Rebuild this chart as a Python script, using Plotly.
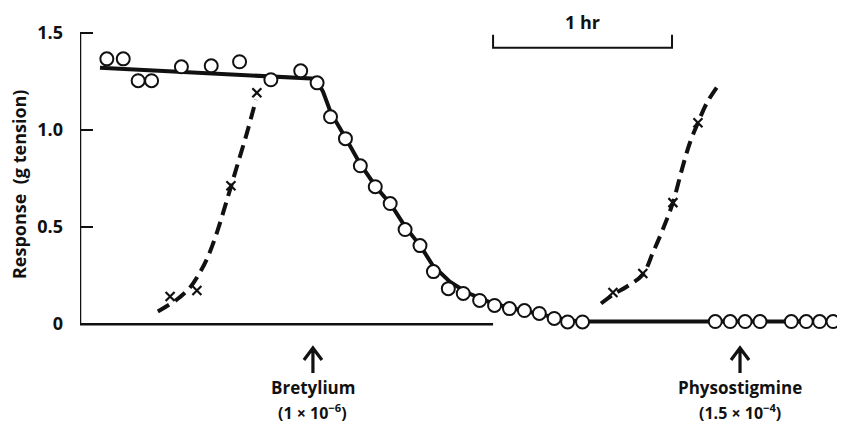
import plotly.graph_objects as go

# ---- data (x in minutes, y in g tension) ----
circle_x = [9, 14.5, 19.5, 24, 34, 44, 53.5, 64, 74, 79.5, 84, 89, 94, 99, 104, 109,
            114, 118.5, 123.5, 128.5, 134, 139, 144, 149, 154, 159, 163.5, 168.5,
            213, 218, 223, 228, 238.5, 243.5, 248, 252.5]
circle_y = [1.366, 1.366, 1.253, 1.253, 1.325, 1.330, 1.351, 1.258, 1.304, 1.242,
            1.067, 0.954, 0.814, 0.706, 0.619, 0.485, 0.402, 0.268, 0.180, 0.155,
            0.119, 0.093, 0.077, 0.067, 0.052, 0.026, 0.008, 0.008,
            0.01, 0.01, 0.01, 0.01, 0.01, 0.01, 0.01, 0.01]

fit_x = [6.7, 79.1, 81.5, 84.1, 89.2, 93.9, 99.2, 104.3, 109.0, 114.3, 118.3, 124.0,
         129.7, 134.1, 138.5, 145.2, 152.5, 159.2, 164.3, 168.6, 256.5]
fit_y = [1.320, 1.263, 1.196, 1.088, 0.954, 0.825, 0.706, 0.613, 0.500, 0.397, 0.299,
         0.216, 0.160, 0.129, 0.103, 0.077, 0.052, 0.031, 0.015, 0.010, 0.010]

cross1_x = [30.2, 39.2, 50.6, 59.3]
cross1_y = [0.139, 0.170, 0.711, 1.191]
dash1_x = [26.1, 32.5, 36.9, 40.2, 42.9, 45.9, 48.6, 50.6, 53.0, 56.0, 59.0]
dash1_y = [0.062, 0.124, 0.186, 0.263, 0.345, 0.469, 0.603, 0.706, 0.830, 0.985, 1.155]

cross2_x = [178.7, 188.7, 198.8, 207.2]
cross2_y = [0.160, 0.258, 0.624, 1.036]
dash2_x = [174.7, 178.7, 183.4, 188.7, 192.1, 195.4, 198.8, 201.8, 204.5, 207.2, 210.2, 213.9]
dash2_y = [0.103, 0.149, 0.191, 0.253, 0.366, 0.485, 0.624, 0.794, 0.933, 1.036, 1.139, 1.227]

tick_vals = [0, 0.5, 1.0, 1.5]
tick_text = ["0", "0.5", "1.0", "1.5"]

drug_x = [78.1, 221.3]
drug_names = ["Bretylium", "Physostigmine"]
drug_doses = ["(1 × 10<sup>−6</sup>)", "(1.5 × 10<sup>−4</sup>)"]

scale_bar_x = [138.5, 198.5]
scale_bar_label = "1 hr"
y_title = "Response  (g tension)"

INK = "#111111"
FONT = "Open Sans"
Y_RANGE = [-0.08, 1.52]
PLOT_H = 310.0   # plot area height in px
MIN_PX = 765.0 / 256.5  # px per minute


def ypaper(v):
    return (v - Y_RANGE[0]) / (Y_RANGE[1] - Y_RANGE[0])


fig = go.Figure()

for dx, dy in ((dash1_x, dash1_y), (dash2_x, dash2_y)):
    fig.add_trace(go.Scatter(x=dx, y=dy, mode="lines",
                             line=dict(color=INK, width=4, dash="13px,7px"),
                             line_shape="spline", hoverinfo="skip"))
fig.add_trace(go.Scatter(x=cross1_x + cross2_x, y=cross1_y + cross2_y, mode="markers",
                         marker=dict(symbol="x-thin-open", size=9, color=INK,
                                     line=dict(color=INK, width=2.2))))
fig.add_trace(go.Scatter(x=fit_x, y=fit_y, mode="lines",
                         line=dict(color=INK, width=4)))
fig.add_trace(go.Scatter(x=circle_x, y=circle_y, mode="markers",
                         marker=dict(symbol="circle", size=13, color="white",
                                     line=dict(color=INK, width=2))))

shapes = [
    dict(type="line", xref="x", yref="y", x0=0, x1=0, y0=0, y1=1.5,
         line=dict(color=INK, width=2.5), layer="above"),
    dict(type="line", xref="x", yref="y", x0=0, x1=scale_bar_x[0], y0=-0.004, y1=-0.004,
         line=dict(color=INK, width=2.5), layer="below"),
    dict(type="path", xref="x", yref="paper",
         path=(f"M {scale_bar_x[0]},{ypaper(1.49)} L {scale_bar_x[0]},{ypaper(1.423)} "
               f"L {scale_bar_x[1]},{ypaper(1.423)} L {scale_bar_x[1]},{ypaper(1.49)}"),
         line=dict(color=INK, width=2)),
]

# upward arrows under the drug additions
tip = -9 / PLOT_H
tail = -34 / PLOT_H
arm_y = -21 / PLOT_H
arm_x = 9 / MIN_PX
for dx in drug_x:
    shapes.append(dict(type="path", xref="x", yref="paper",
                       path=(f"M {dx},{tail} L {dx},{tip} "
                             f"M {dx - arm_x},{arm_y} L {dx},{tip} L {dx + arm_x},{arm_y}"),
                       line=dict(color=INK, width=3.2)))

annotations = [
    dict(text=y_title, xref="paper", yref="paper", x=-0.0797, y=0.5,
         textangle=-90, showarrow=False, xanchor="center", yanchor="middle",
         font=dict(family=FONT, size=18, color=INK, weight="bold")),
    dict(text=scale_bar_label, xref="x", yref="paper",
         x=(scale_bar_x[0] + scale_bar_x[1]) / 2, y=ypaper(1.556), showarrow=False,
         yanchor="middle",
         font=dict(family=FONT, size=18, color=INK, weight="bold")),
]
for dx, name, dose in zip(drug_x, drug_names, drug_doses):
    annotations.append(dict(text=name, x=dx, y=ypaper(-0.328),
                            xref="x", yref="paper",
                            showarrow=False, yanchor="middle", align="center",
                            font=dict(family=FONT, size=17, color=INK, weight="bold")))
    annotations.append(dict(text=dose, x=dx, y=ypaper(-0.457),
                            xref="x", yref="paper",
                            showarrow=False, yanchor="middle", align="center",
                            font=dict(family=FONT, size=16, color=INK, weight="bold")))

# page body has an 8px default margin, so the figure is shrunk by 8px to fit the window
fig.update_layout(
    width=837, height=418,
    margin=dict(l=72, r=0, t=21, b=87),
    paper_bgcolor="white", plot_bgcolor="white",
    showlegend=False,
    shapes=shapes, annotations=annotations,
    xaxis=dict(range=[0, 256.5], showticklabels=False, showgrid=False,
               zeroline=False, showline=False, ticks=""),
    yaxis=dict(range=Y_RANGE, tickvals=tick_vals, ticktext=tick_text,
               ticks="inside", ticklen=13, tickwidth=2, tickcolor=INK,
               showgrid=False, zeroline=False, showline=False,
               ticklabelstandoff=16,
               tickfont=dict(family=FONT, size=18, color=INK, weight="bold")),
)

fig.write_html("out.html")
